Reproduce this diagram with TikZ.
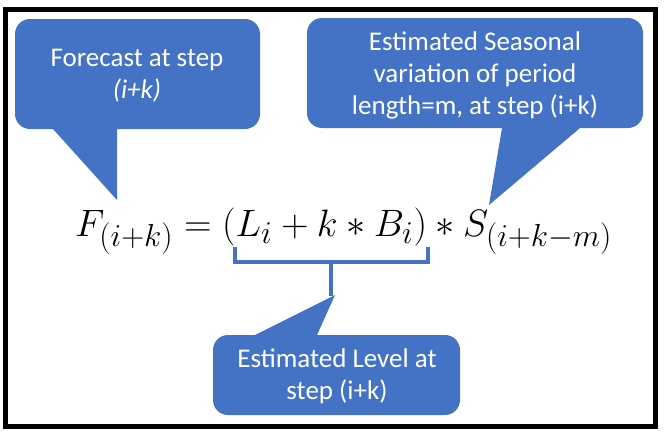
\documentclass[tikz,border=0pt]{standalone}
\usepackage{fontspec}
\setmainfont{Carlito}
\usepackage{amsmath}
\usepackage{graphicx}
\definecolor{bubble}{HTML}{4472C4}
\begin{document}
\begin{tikzpicture}[x=1pt,y=-1pt,
  bubblefill/.style={fill=bubble,draw=none},
  bubbletext/.style={text=white,align=center,font=\fontsize{27}{32}\selectfont,inner sep=0pt},
  bracketline/.style={draw=bubble,line width=3.2pt}]
\useasboundingbox (0,0) rectangle (665,437);
% frame
\draw[line width=5pt] (5.5,9.5) rectangle (655.5,426.5);
% left bubble
\fill[bubblefill,rounded corners=15pt] (15,19) rectangle (260,129);
\fill[bubblefill] (53,129) -- (117,200) -- (117,120) -- (53,120) -- cycle;
\node[bubbletext] (forecast) at (137,76) {Forecast at step\\\textit{(i+k)}};
% right bubble
\fill[bubblefill,rounded corners=15pt] (307,18) rectangle (643,128);
\fill[bubblefill] (502,128) -- (489,205) -- (580,128) -- (580,120) -- (502,120) -- cycle;
\node[bubbletext] (seasonal) at (475,75) {Estimated Seasonal\\variation of period\\length=m, at step (i+k)};
% bottom bubble
\fill[bubblefill,rounded corners=15pt] (213,335) rectangle (460,415);
\fill[bubblefill] (255,335) -- (335,295) -- (317,335) -- (317,345) -- (255,345) -- cycle;
\node[bubbletext] (level) at (337,376) {Estimated Level at\\step (i+k)};
% formula
\node[anchor=base west,inner sep=0pt,font=\fontsize{24.88}{30}\selectfont] (formula) at (75,236)
  {\resizebox{537pt}{!}{$F_{(i+k)} = (L_i + k \ast B_i) \ast S_{(i+k-m)}$}};
% bracket
\coordinate (bl) at (235,247);
\coordinate (br) at (428,247);
\coordinate (bm) at (331,262);
\coordinate (bt) at (331,296);
\draw[bracketline] (bl) -- (235,262) -- (428,262) -- (br);
\draw[bracketline] (bm) -- (bt);
\end{tikzpicture}
\end{document}
